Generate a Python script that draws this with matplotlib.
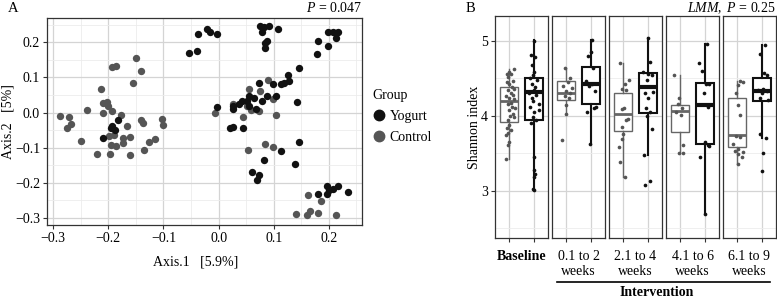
import matplotlib.pyplot as plt
import numpy as np
from matplotlib.lines import Line2D

plt.rcParams['font.family'] = ['Liberation Serif', 'DejaVu Serif']
plt.rcParams['mathtext.fontset'] = 'custom'
plt.rcParams['mathtext.rm'] = 'Liberation Serif'
plt.rcParams['mathtext.it'] = 'Liberation Serif:italic'
plt.rcParams['font.size'] = 10

# ---- panel A: PCoA coordinates ----
yog_x = [-0.054, -0.040, -0.037, -0.021, -0.015, -0.003,
         0.076, 0.082, 0.091, 0.079, 0.107, 0.088, 0.085, 0.084,
         0.198, 0.207, 0.213, 0.216, 0.212, 0.180, 0.198, 0.178,
         0.145, 0.125, 0.128, 0.113, 0.119, 0.098, 0.073, 0.055, 0.043, 0.037,
         0.027, 0.027, 0.052, 0.064, 0.079, 0.088, 0.104, 0.067, 0.055, -0.002,
         0.143, 0.027, 0.021, 0.044, 0.145, 0.113, 0.082, 0.138, 0.061, 0.074, 0.069,
         0.181, 0.197, 0.201, 0.197, 0.207, 0.216, 0.235,
         -0.183, -0.193, -0.187, -0.209, -0.195]
yog_y = [0.170, 0.175, 0.223, 0.237, 0.230, 0.223,
         0.245, 0.242, 0.247, 0.228, 0.237, 0.204, 0.199, 0.185,
         0.228, 0.230, 0.226, 0.228, 0.213, 0.204, 0.190, 0.166,
         0.128, 0.106, 0.090, 0.080, 0.085, 0.080, 0.083, 0.047, 0.032, 0.023,
         0.018, 0.009, 0.032, 0.042, 0.032, 0.047, 0.047, 0.009, 0.018, 0.016,
         0.030, -0.041, -0.044, -0.044, -0.085, -0.110, -0.136, -0.146, -0.168, -0.177, -0.193,
         -0.232, -0.231, -0.220, -0.209, -0.218, -0.209, -0.225,
         -0.021, -0.039, -0.049, -0.073, -0.045]
ctl_x = [-0.288, -0.271, -0.267, -0.275, -0.239, -0.249, -0.220, -0.197, -0.213, -0.193,
         -0.186, -0.149, -0.141, -0.156, -0.209, -0.203, -0.201, -0.209, -0.193, -0.177,
         -0.166, -0.198, -0.189, -0.174, -0.160, -0.174, -0.195, -0.186, -0.161, -0.136,
         -0.126, -0.115, -0.140, -0.137, -0.103, -0.101,
         0.055, 0.090, 0.075, 0.027, 0.045, 0.059, 0.073, 0.052, 0.098, -0.006,
         0.104, 0.054, 0.084, 0.099, 0.163, 0.185, 0.140, 0.160, 0.165, 0.180, 0.213]
ctl_y = [-0.011, -0.014, -0.033, -0.045, 0.007, -0.082, -0.117, -0.117, 0.067, 0.129,
         0.133, 0.156, 0.119, 0.084, 0.026, 0.030, 0.019, -0.002, 0.005, -0.007,
         -0.037, -0.067, -0.065, -0.073, -0.070, -0.086, -0.092, -0.095, -0.120, -0.107,
         -0.084, -0.075, -0.021, -0.030, -0.019, -0.035,
         0.066, 0.094, 0.061, 0.023, -0.012, 0.007, 0.004, 0.018, 0.039, -0.001,
         -0.006, -0.106, -0.089, -0.099, -0.234, -0.251, -0.290, -0.291, -0.279, -0.287, -0.291]

# ---- panel B: Shannon index per period ----
periods = ['Baseline', '0.1 to 2\nweeks', '2.1 to 4\nweeks', '4.1 to 6\nweeks', '6.1 to 9\nweeks']

ctl_vals = [
    [4.62, 4.59, 4.56, 4.56, 4.52, 4.47, 4.45, 4.42, 4.39, 4.36, 4.34, 4.31, 4.28, 4.26, 4.23, 4.22, 4.17,
     4.16, 4.12, 4.11, 4.08, 4.03, 4.00, 3.98, 3.94, 3.88, 3.84, 3.81, 3.77, 3.74, 3.65, 3.61, 3.42],
    [4.64, 4.50, 4.45, 4.40, 4.37, 4.33, 4.30, 4.27, 4.23, 4.14, 4.02, 3.68],
    [4.70, 4.48, 4.43, 4.36, 4.34, 4.11, 4.09, 3.96, 3.95, 3.85, 3.76, 3.69, 3.59, 3.39, 3.18],
    [4.54, 4.23, 4.16, 4.10, 4.05, 4.01, 3.61, 3.51, 3.51],
    [4.47, 4.45, 4.41, 4.30, 4.14, 4.01, 3.73, 3.72, 3.63, 3.56, 3.53, 3.52, 3.49, 3.45, 3.36],
]
ctl_jit = [
    [0.17, 0, -0.11, 0.06, -0.04, 0.14, -0.11, 0, 0.1, 0.19, -0.08, 0.06, 0.14, -0.14, -0.01, 0.17, 0.06,
     -0.07, 0.1, 0.24, 0, 0.14, 0.03, 0.17, -0.04, 0, -0.11, 0.06, -0.04, -0.14, 0, -0.04, -0.14],
    [-0.07, 0.14, 0.07, -0.14, 0.21, 0, 0.14, -0.06, 0.1, 0.0, -0.03, -0.17],
    [-0.15, 0.24, 0.06, -0.04, 0.12, 0.03, -0.08, 0.19, 0.1, -0.08, -0.01, -0.04, -0.18, -0.15, 0.06],
    [-0.25, -0.04, -0.11, 0.07, -0.18, 0.03, 0.1, -0.07, 0.1],
    [0.12, 0.21, 0.03, -0.04, 0.03, 0.1, -0.07, 0.12, -0.18, 0.03, -0.11, 0.21, 0.03, 0.17, 0.03],
]
yog_vals = [
    [5.00, 4.81, 4.79, 4.68, 4.59, 4.54, 4.50, 4.48, 4.43, 4.39, 4.34, 4.31, 4.28, 4.24, 4.19, 4.16, 4.12,
     4.08, 4.05, 3.99, 3.94, 3.91, 3.45, 3.28, 3.23, 3.19, 3.03, 3.01],
    [5.01, 4.85, 4.80, 4.64, 4.47, 4.43, 4.40, 4.33, 4.12, 4.10, 4.05, 3.63],
    [5.04, 4.72, 4.59, 4.56, 4.54, 4.48, 4.32, 4.30, 4.23, 4.10, 4.05, 4.00, 3.82, 3.48, 3.13, 3.08],
    [4.96, 4.71, 4.60, 4.43, 4.42, 4.31, 4.12, 3.65, 3.61, 3.60, 3.45, 2.69],
    [4.94, 4.82, 4.57, 4.55, 4.36, 4.34, 4.33, 4.30, 4.23, 4.21, 3.76, 3.70, 3.50, 3.27],
]
yog_jit = [
    [0, -0.11, 0.07, -0.07, 0.03, -0.03, -0.14, 0.14, -0.07, 0.07, 0, -0.17, 0.11, -0.07, -0.03, 0.21, -0.14,
     0.21, 0.03, -0.03, 0.11, -0.11, 0, 0, 0.07, 0.03, -0.03, 0],
    [0.04, 0.0, -0.12, 0.11, -0.17, 0.04, -0.06, 0.18, 0.22, 0.14, -0.14, -0.03],
    [0, 0.12, -0.18, 0.03, 0.17, -0.04, 0.24, -0.11, 0.03, -0.07, 0.1, -0.04, 0.17, -0.15, 0.1, -0.1],
    [0.1, -0.21, -0.11, 0.04, 0.18, -0.03, 0.14, 0, 0.14, 0.18, -0.17, 0],
    [0.14, -0.07, 0.11, 0.21, 0.07, -0.14, 0.21, 0, -0.07, 0.28, -0.07, 0.18, 0.04, 0],
]
# box statistics: lower whisker, q1, median, q3, upper whisker
ctl_box = [[3.42, 3.92, 4.20, 4.39, 4.62],
           [4.02, 4.21, 4.31, 4.46, 4.64],
           [3.18, 3.80, 4.02, 4.31, 4.70],
           [3.51, 3.79, 4.07, 4.14, 4.54],
           [3.36, 3.59, 3.74, 4.23, 4.47]]
yog_box = [[3.01, 3.95, 4.32, 4.51, 5.01],
           [3.63, 4.16, 4.43, 4.65, 5.01],
           [3.48, 4.04, 4.39, 4.57, 5.04],
           [2.69, 3.62, 4.14, 4.44, 4.96],
           [3.70, 4.19, 4.33, 4.50, 4.94]]

C_YOG = '#111111'
C_CTL = '#555555'
C_CTL_BOX = '#666666'
GRID_MAJ = '#d4d4d4'
GRID_MIN = '#ececec'
EDGE = '#333333'

W, H = 777, 299
fig = plt.figure(figsize=(W / 100, H / 100), dpi=100)


def box(x0, y0, x1, y1):
    return [x0 / W, 1 - y1 / H, (x1 - x0) / W, (y1 - y0) / H]


def style(ax):
    for s in ax.spines.values():
        s.set_color(EDGE)
        s.set_linewidth(0.9)
    ax.tick_params(length=3, color=EDGE, width=0.8, pad=2, labelsize=10, labelcolor='black')
    ax.tick_params(which='minor', length=0)
    ax.grid(True, which='major', color=GRID_MAJ, lw=0.9, zorder=0)
    ax.grid(True, which='minor', color=GRID_MIN, lw=0.6, zorder=0)
    ax.set_axisbelow(True)


# panel A
axA = fig.add_axes(box(47, 18, 362, 225))
style(axA)
axA.scatter(ctl_x, ctl_y, s=28, color=C_CTL, lw=0, zorder=3)
axA.scatter(yog_x, yog_y, s=28, color=C_YOG, lw=0, zorder=3)
axA.set_xlim(-0.311, 0.26)
axA.set_ylim(-0.32, 0.269)
axA.set_xticks([-0.3, -0.2, -0.1, 0.0, 0.1, 0.2])
axA.set_xticklabels(['\u22120.3', '\u22120.2', '\u22120.1', '0.0', '0.1', '0.2'])
axA.set_yticks([-0.3, -0.2, -0.1, 0.0, 0.1, 0.2])
axA.set_yticklabels(['\u22120.3', '\u22120.2', '\u22120.1', '0.0', '0.1', '0.2'])
axA.set_xticks(np.arange(-0.25, 0.26, 0.1), minor=True)
axA.set_yticks(np.arange(-0.25, 0.26, 0.1), minor=True)

fig.text(196 / W, 1 - 262 / H, 'Axis.1   [5.9%]', ha='center', va='center', fontsize=10)
fig.text(8 / W, 1 - 122 / H, 'Axis.2   [5%]', ha='center', va='center', rotation=90, fontsize=10)
fig.text(8 / W, 1 - 8 / H, 'A', ha='left', va='center', fontsize=10.5)
fig.text(362 / W, 1 - 8 / H, r'$\it{P}$ = 0.047', ha='right', va='center', fontsize=10)

# legend
fig.text(372 / W, 1 - 95 / H, 'Group', ha='left', va='center', fontsize=10)
handles = [Line2D([], [], marker='o', ls='', color=C_YOG, markersize=7.5, label='Yogurt'),
           Line2D([], [], marker='o', ls='', color=C_CTL, markersize=7.5, label='Control')]
fig.legend(handles=handles, loc='upper left', bbox_to_anchor=(368 / W, 1 - 107 / H),
           frameon=False, fontsize=10, handletextpad=0.15, labelspacing=0.6,
           borderpad=0.2, handlelength=1.2, borderaxespad=0)

# panel B
facet_x = [495, 552, 609, 666, 723]
for i in range(5):
    ax = fig.add_axes(box(facet_x[i], 16, facet_x[i] + 53, 238))
    style(ax)
    for pos, st, col, lw in [(1, ctl_box[i], C_CTL_BOX, 1.0), (2, yog_box[i], C_YOG, 1.5)]:
        stats = [dict(whislo=st[0], q1=st[1], med=st[2], q3=st[3], whishi=st[4], fliers=[])]
        ax.bxp(stats, positions=[pos], widths=0.75, showfliers=False, showcaps=False,
               patch_artist=True, manage_ticks=False,
               boxprops=dict(facecolor='white', edgecolor=col, linewidth=lw),
               medianprops=dict(color=col, linewidth=lw * 2),
               whiskerprops=dict(color=col, linewidth=lw), zorder=2)
    ax.scatter(1 + np.array(ctl_jit[i]), ctl_vals[i], s=7, color=C_CTL, lw=0, zorder=4)
    ax.scatter(2 + np.array(yog_jit[i]), yog_vals[i], s=7, color=C_YOG, lw=0, zorder=4)
    ax.set_xlim(0.4, 2.6)
    ax.set_ylim(2.37, 5.33)
    ax.set_xticks([1, 2])
    ax.set_xticklabels([])
    ax.set_yticks([3, 4, 5])
    ax.set_yticks([2.5, 3.5, 4.5], minor=True)
    if i == 0:
        ax.set_yticklabels(['3', '4', '5'])
    else:
        ax.tick_params(axis='y', length=0, labelleft=False)

    cx = (facet_x[i] + 26.5) / W
    if i == 0:
        fig.text(cx, 1 - 256 / H, periods[i], ha='center', va='center', fontsize=10, fontweight='bold')
    else:
        fig.text(cx, 1 - 264 / H, periods[i], ha='center', va='center', fontsize=10, linespacing=1.15)

fig.text(474 / W, 1 - 127 / H, 'Shannon index', ha='center', va='center', rotation=90, fontsize=10)
fig.text(466 / W, 1 - 8 / H, 'B', ha='left', va='center', fontsize=10.5)
fig.text(776 / W, 1 - 8 / H, r'$\it{LMM,\ P}$ = 0.25', ha='right', va='center', fontsize=10)

fig.add_artist(Line2D([557 / W, 770 / W], [1 - 282 / H, 1 - 282 / H], color='black', lw=1.2))
fig.text(657 / W, 1 - 293 / H, 'Intervention', ha='center', va='center', fontsize=10, fontweight='bold')

fig.savefig('out.png', dpi=100)
